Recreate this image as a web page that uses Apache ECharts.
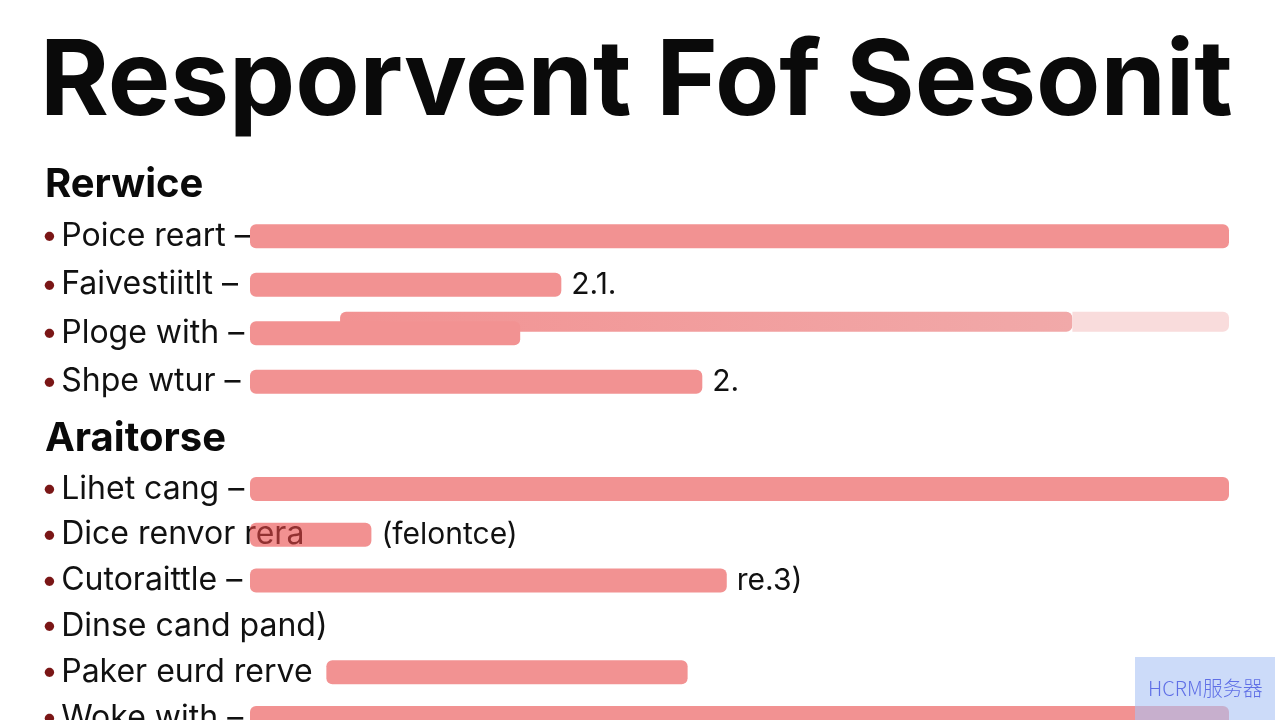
<!DOCTYPE html>
<html>
<head>
<meta charset="utf-8">
<title>Resporvent Fof Sesonit</title>
<script src="https://cdn.jsdelivr.net/npm/echarts@6/dist/echarts.min.js"></script>
<style>
  html, body { margin: 0; padding: 0; background: #fff; overflow: hidden; }
  /* taller than the window: the last row is cut off by the bottom edge */
  #chart { width: 1280px; height: 760px; }
</style>
</head>
<body>
<div id="chart"></div>
<script>
const titleText = 'Resporvent Fof Sesonit'
const sectionTitles = ['Rerwice', 'Araitorse']

// first block
const rerwiceLabels = ['Poice reart –', 'Faivestiitlt –', 'Ploge with –', 'Shpe wtur –']
const rerwiceValues = [100, 31.8, 27.6, 46.2]
const rerwiceNotes = ['', '2.1.', '', '2.']
// the raised bar on the "Ploge with" row
const overlayStart = ['-', '-', 9.2, '-']
const overlayMain = ['-', '-', 74.8, '-']
const overlayFade = ['-', '-', 16, '-']

// second block
const araitorseLabels = ['Lihet cang –', 'Dice renvor rera', 'Cutoraittle –', 'Dinse cand pand)', 'Paker eurd rerve', 'Woke with –']
const araitorseStart = [0, 0, 0, '-', 7.8, 0]
const araitorseValues = [100, 12.4, 48.7, '-', 36.9, 100]
const araitorseNotes = ['', '(felontce)', 're.3)', '', '', '']

const barColor = '#f29292'
const font = 'Inter, "Liberation Sans", sans-serif'

function labelFormatter(value) {
  return '{dot|•} {txt|' + value + '}'
}

function catAxis(gridIndex, data, show) {
  return {
    type: 'category',
    gridIndex: gridIndex,
    data: data,
    inverse: true,
    show: show,
    axisLine: { show: false },
    axisTick: { show: false },
    splitLine: { show: false },
    axisLabel: {
      show: show,
      interval: 0,
      align: 'left',
      margin: 209,
      formatter: labelFormatter,
      rich: {
        dot: { color: '#7a1616', fontSize: 30, fontFamily: font },
        txt: { color: '#111', fontSize: 32, fontFamily: font }
      }
    }
  }
}

function valAxis(gridIndex) {
  return { type: 'value', gridIndex: gridIndex, min: 0, max: 100, show: false }
}

const noteLabel = function (notes) {
  return {
    show: true,
    position: 'right',
    distance: 10,
    color: '#111',
    fontSize: 30,
    fontFamily: font,
    formatter: p => notes[p.dataIndex]
  }
}

let myChart = echarts.init(document.getElementById('chart'))

let option = {
  backgroundColor: '#fff',
  animation: false,
  title: [
    {
      text: titleText, left: 40, top: 31, padding: 0,
      textStyle: { fontSize: 105, fontWeight: 'bold', color: '#0a0a0a', fontFamily: font }
    },
    {
      text: sectionTitles[0], left: 45, top: 165, padding: 0,
      textStyle: { fontSize: 40, fontWeight: 'bold', color: '#0a0a0a', fontFamily: font }
    },
    {
      text: sectionTitles[1], left: 45, top: 419, padding: 0,
      textStyle: { fontSize: 40, fontWeight: 'bold', color: '#0a0a0a', fontFamily: font }
    }
  ],
  grid: [
    { left: 250, right: 51, top: 212, height: 194 },
    { left: 250, right: 51, top: 200.5, height: 194 },
    { left: 250, right: 51, top: 466, height: 275 }
  ],
  xAxis: [valAxis(0), valAxis(1), valAxis(2)],
  yAxis: [
    catAxis(0, rerwiceLabels, true),
    catAxis(1, rerwiceLabels, false),
    catAxis(2, araitorseLabels, true)
  ],
  series: [
    {
      type: 'bar', xAxisIndex: 1, yAxisIndex: 1, stack: 'over', barWidth: 20,
      data: overlayStart, itemStyle: { color: 'transparent' }, silent: true
    },
    {
      type: 'bar', xAxisIndex: 1, yAxisIndex: 1, stack: 'over', barWidth: 20,
      data: overlayMain,
      itemStyle: {
        borderRadius: 6,
        color: new echarts.graphic.LinearGradient(0, 0, 1, 0, [
          { offset: 0, color: barColor },
          { offset: 1, color: '#f1a9a9' }
        ])
      }
    },
    {
      type: 'bar', xAxisIndex: 1, yAxisIndex: 1, stack: 'over', barWidth: 20,
      data: overlayFade, itemStyle: { color: '#f9dcdc', borderRadius: [0, 6, 6, 0] }
    },
    {
      type: 'bar', xAxisIndex: 0, yAxisIndex: 0, barWidth: 24, z: 3,
      data: rerwiceValues,
      itemStyle: { color: barColor, borderRadius: 6 },
      label: noteLabel(rerwiceNotes)
    },
    {
      type: 'bar', xAxisIndex: 2, yAxisIndex: 2, stack: 'ara', barWidth: 24,
      data: araitorseStart, itemStyle: { color: 'transparent' }, silent: true
    },
    {
      type: 'bar', xAxisIndex: 2, yAxisIndex: 2, stack: 'ara', barWidth: 24,
      data: araitorseValues.map((v, i) => i === 1
        ? { value: v, itemStyle: { color: 'rgba(233,72,72,0.6)' } }
        : v),
      itemStyle: { color: barColor, borderRadius: 6 },
      label: noteLabel(araitorseNotes)
    }
  ],
  graphic: [
    {
      type: 'rect', z: 100,
      shape: { x: 1135, y: 657, width: 140, height: 63 },
      style: { fill: 'rgba(170,195,245,0.6)' }
    },
    {
      type: 'text', z: 101, x: 1148, y: 688,
      style: {
        text: 'HCRM服务器', fill: '#5f6fe6', fontSize: 20, fontWeight: 300,
        fontFamily: '"Noto Sans CJK SC", sans-serif', textVerticalAlign: 'middle'
      }
    }
  ]
}

myChart.setOption(option)
</script>
</body>
</html>
